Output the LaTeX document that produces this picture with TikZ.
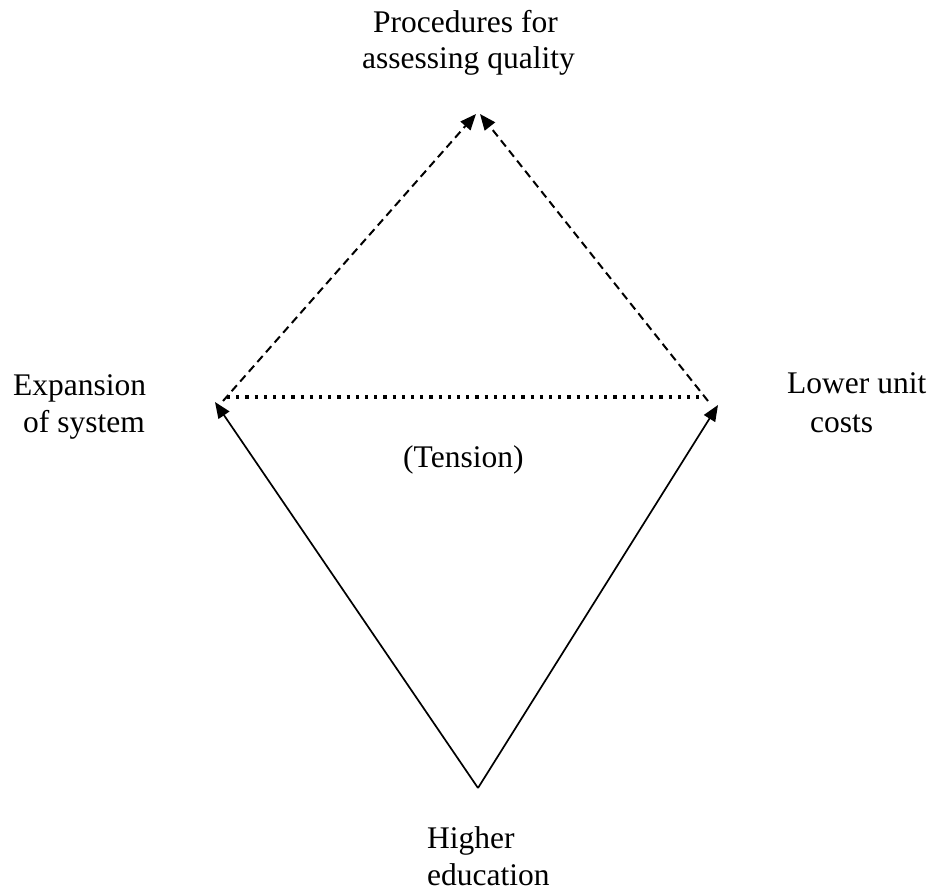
\documentclass[tikz,border=0pt]{standalone}
\usepackage{fontspec}
\setmainfont{Liberation Serif}
\usetikzlibrary{arrows.meta}
\begin{document}
\begin{tikzpicture}[x=1pt,y=-1pt,
  lbl/.style={anchor=base west,inner sep=0pt,font=\fontsize{31.5}{37}\selectfont},
  tip/.style={-{Triangle[length=16pt,width=13pt]}},
  solidline/.style={tip,line width=1.7pt},
  dashline/.style={tip,line width=2pt,dash pattern=on 8pt off 5pt},
  dotline/.style={line width=3.2pt,dash pattern=on 3.2pt off 6pt}]
\useasboundingbox (0,0) rectangle (931,890);
% corner points
\coordinate (top) at (478,113);
\coordinate (topL) at (476,114);
\coordinate (topR) at (480,114);
\coordinate (left) at (215,402);
\coordinate (right) at (718,405);
\coordinate (bottom) at (478,788);
\coordinate (dl) at (223,401);
\coordinate (dr) at (708,401);
\coordinate (ds) at (227,397);
\coordinate (de) at (700,397);
% labels
\node[lbl] (p1) at (373,33) {Procedures for};
\node[lbl] (p2) at (362,69) {assessing quality};
\node[lbl] (e1) at (13,395) {Expansion};
\node[lbl] (e2) at (23,432) {of system};
\node[lbl] (l1) at (787,393) {Lower unit};
\node[lbl] (l2) at (810,432) {costs};
\node[lbl] (t) at (403,467) {(Tension)};
\node[lbl] (h1) at (427,848) {Higher};
\node[lbl] (h2) at (427,885) {education};
% connectors
\draw[solidline] (bottom) -- (left);
\draw[solidline] (bottom) -- (right);
\draw[dashline] (dl) -- (topL);
\draw[dashline] (dr) -- (topR);
\draw[dotline] (ds) -- (de);
\end{tikzpicture}
\end{document}
